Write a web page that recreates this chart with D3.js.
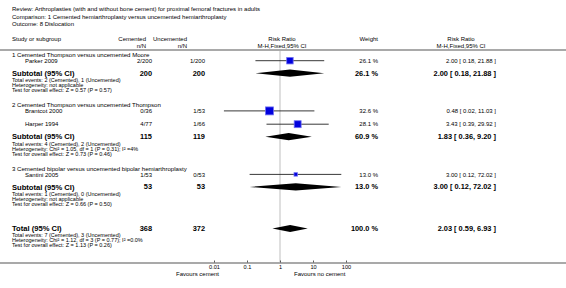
<!DOCTYPE html>
<html>
<head>
<meta charset="utf-8">
<script src="https://cdn.jsdelivr.net/npm/d3@7"></script>
<style>
  body { margin:0; background:#fff; }
  text { font-family: "Liberation Sans", Arial, sans-serif; fill:#000; }
</style>
</head>
<body>
<div id="plot"></div>
<script>
// ---- data
var titleLines = [
  "Review:  Arthroplasties (with and without bone cement) for proximal femoral fractures in adults",
  "Comparison:  1 Cemented hemiarthroplasty versus uncemented hemiarthroplasty",
  "Outcome:  8 Dislocation"
];

var groupNames = [
  "1 Cemented Thompson versus uncemented Moore",
  "2 Cemented Thompson versus uncemented Thompson",
  "3 Cemented bipolar versus uncemented bipolar hemiarthroplasty"
];

var studies    = ["Parker 2009", "Brantcot 2000", "Harper 1994", "Santini 2005"];
var studyGroup = [0, 1, 1, 2];
var cemented   = ["2/200", "0/36", "4/77", "1/53"];
var uncemented = ["1/200", "1/53", "1/66", "0/53"];
var weights    = [26.1, 32.6, 28.1, 13.0];
var rr         = [2.00, 0.48, 3.43, 3.00];
var rrLow      = [0.18, 0.02, 0.39, 0.12];
var rrHigh     = [21.88, 11.03, 29.92, 72.02];

var subCemented   = [200, 115, 53];
var subUncemented = [200, 119, 53];
var subWeight     = [26.1, 60.9, 13.0];
var subRR         = [2.00, 1.83, 3.00];
var subLow        = [0.18, 0.36, 0.12];
var subHigh       = [21.88, 9.20, 72.02];
var subNotes = [
  ["Total events: 2 (Cemented), 1 (Uncemented)",
   "Heterogeneity: not applicable",
   "Test for overall effect: Z = 0.57 (P = 0.57)"],
  ["Total events: 4 (Cemented), 2 (Uncemented)",
   "Heterogeneity: Chi\u00b2 = 1.05, df = 1 (P = 0.31); I\u00b2 =4%",
   "Test for overall effect: Z = 0.73 (P = 0.46)"],
  ["Total events: 1 (Cemented), 0 (Uncemented)",
   "Heterogeneity: not applicable",
   "Test for overall effect: Z = 0.66 (P = 0.50)"]
];

var totalCemented = 368, totalUncemented = 372, totalWeight = 100.0;
var totalRR = 2.03, totalLow = 0.59, totalHigh = 6.93;
var totalNotes = [
  "Total events: 7 (Cemented), 3 (Uncemented)",
  "Heterogeneity: Chi\u00b2 = 1.12, df = 3 (P = 0.77); I\u00b2 =0.0%",
  "Test for overall effect: Z = 1.13 (P = 0.26)"
];

var tickValues = [0.01, 0.1, 1, 10, 100];
var tickLabels = ["0.01", "0.1", "1", "10", "100"];
var favLeft = "Favours cement", favRight = "Favours no cement";

// ---- layout
var W = 566, H = 288;
var col = { left:12, study:25, cem:152, unc:205, wt:378, ci:496, ciHead:461, plotHead:282 };
var lineGray = "#a9a9a9";

var svg = d3.select("#plot").append("svg")
    .attr("width", W).attr("height", H);

// forest x scale (log)
var x = d3.scaleLog().domain([0.01, 100]).range([214, 346]);

// square size follows weight
var boxSize = d3.scaleLinear().domain([0, 35]).range([0.5, 8.5]);

function fmt2(v) { return d3.format(".2f")(v); }
function ciText(m, lo, hi) { return fmt2(m) + " [ " + fmt2(lo) + ", " + fmt2(hi) + " ]"; }
function txt(xp, yp, s, size, anchor, weight) {
  return svg.append("text")
    .attr("x", xp).attr("y", yp).attr("dy", "0.35em")
    .attr("font-size", size)
    .attr("text-anchor", anchor || "start")
    .attr("font-weight", weight || "normal")
    .text(s);
}

// build rows: each row gets a gap (px) from the previous row
var rows = [];
groupNames.forEach(function(g, gi) {
  rows.push({ type:"group", gi:gi, gap: gi === 0 ? 0 : 15 });
  var first = true;
  studies.forEach(function(s, i) {
    if (studyGroup[i] === gi) {
      rows.push({ type:"study", i:i, gap: first ? 5.7 : 13.3 });
      first = false;
    }
  });
  rows.push({ type:"sub", gi:gi, gap:12.5 });
  subNotes[gi].forEach(function(n, k) {
    rows.push({ type:"note", text:n, gap: k === 0 ? 7 : 5 });
  });
});
rows.push({ type:"total", gap:24.6 });
totalNotes.forEach(function(n, k) {
  rows.push({ type:"note", text:n, gap: k === 0 ? 7 : 5 });
});
var yy = 55;
rows.forEach(function(r, k) { yy += (k === 0 ? 0 : r.gap); r.y = yy; });

var axisY = 263;

// ---- title block
titleLines.forEach(function(t, i) {
  txt(col.left, 9 + i * 7.5, t, 6);
});

// ---- column headers
txt(col.left, 39, "Study or subgroup", 6);
txt(col.cem - 6, 39, "Cemented", 6, "end");
txt(col.cem - 6, 46, "n/N", 6, "end");
txt(col.unc - 18, 39, "Uncemented", 6, "end");
txt(col.unc - 18, 46, "n/N", 6, "end");
txt(col.plotHead, 39, "Risk Ratio", 6, "middle");
txt(col.plotHead, 46, "M-H,Fixed,95% CI", 6, "middle");
txt(col.wt, 39, "Weight", 6, "end");
txt(col.ciHead, 39, "Risk Ratio", 6, "middle");
txt(col.ciHead, 46, "M-H,Fixed,95% CI", 6, "middle");

svg.append("line")
    .attr("x1", 0).attr("x2", W)
    .attr("y1", 50).attr("y2", 50)
    .attr("stroke", lineGray).attr("stroke-width", 2);

// ---- line of no effect
svg.append("line")
    .attr("x1", x(1)).attr("x2", x(1))
    .attr("y1", 51).attr("y2", axisY)
    .attr("stroke", "#d4d4d4").attr("stroke-width", 1.5);

// ---- rows
rows.forEach(function(r) {
  if (r.type === "group") {
    txt(col.left, r.y, groupNames[r.gi], 6.1);
  } else if (r.type === "study") {
    var i = r.i;
    txt(col.study, r.y, studies[i], 6);
    txt(col.cem, r.y, cemented[i], 6, "end");
    txt(col.unc, r.y, uncemented[i], 6, "end");
    txt(col.wt, r.y, d3.format(".1f")(weights[i]) + " %", 6, "end");
    txt(col.ci, r.y, ciText(rr[i], rrLow[i], rrHigh[i]), 6, "end");
    svg.append("line")
        .attr("x1", x(rrLow[i])).attr("x2", x(rrHigh[i]))
        .attr("y1", r.y).attr("y2", r.y)
        .attr("stroke", "#222").attr("stroke-width", 0.9);
    var b = boxSize(weights[i]);
    svg.append("rect")
        .attr("x", x(rr[i]) - b / 2).attr("y", r.y - b / 2)
        .attr("width", b).attr("height", b)
        .attr("fill", "#0000dd").attr("stroke", "#6f6ff2").attr("stroke-width", 0.8);
  } else if (r.type === "sub" || r.type === "total") {
    var isT = r.type === "total";
    var gi = r.gi;
    var label = isT ? "Total (95% CI)" : "Subtotal (95% CI)";
    var c = isT ? totalCemented : subCemented[gi];
    var u = isT ? totalUncemented : subUncemented[gi];
    var w = isT ? totalWeight : subWeight[gi];
    var m = isT ? totalRR : subRR[gi];
    var lo = isT ? totalLow : subLow[gi];
    var hi = isT ? totalHigh : subHigh[gi];
    txt(col.left, r.y, label, 7.6, "start", "bold");
    txt(col.cem, r.y, c, 7.4, "end", "bold");
    txt(col.unc, r.y, u, 7.4, "end", "bold");
    txt(col.wt, r.y, d3.format(".1f")(w) + " %", 7.4, "end", "bold");
    txt(col.ci, r.y, ciText(m, lo, hi), 7.4, "end", "bold");
    var hh = 3.6;
    svg.append("path")
        .attr("d", "M" + x(lo) + "," + r.y +
                   "L" + x(m) + "," + (r.y - hh) +
                   "L" + x(hi) + "," + r.y +
                   "L" + x(m) + "," + (r.y + hh) + "Z")
        .attr("fill", "#000");
  } else if (r.type === "note") {
    txt(col.left, r.y, r.text, 5.5);
  }
});

// ---- axis
svg.append("line")
    .attr("x1", 0).attr("x2", W)
    .attr("y1", axisY).attr("y2", axisY)
    .attr("stroke", lineGray).attr("stroke-width", 2);

var axis = d3.axisBottom(x)
    .tickValues(tickValues)
    .tickFormat(function(d, i) { return tickLabels[i]; })
    .tickSize(0)
    .tickPadding(2.5);

var axisG = svg.append("g")
    .attr("transform", "translate(0," + axisY + ")")
    .call(axis);
axisG.select(".domain").remove();
axisG.selectAll("text")
    .attr("font-size", 5.6)
    .attr("font-family", "Liberation Sans, Arial, sans-serif");
axisG.selectAll(".tick").append("line")
    .attr("y1", -2.5).attr("y2", -0.5)
    .attr("stroke", "#333").attr("stroke-width", 0.8);

txt(x(0.01) + 5, 273.5, favLeft, 6, "end");
txt(x(1) + 14, 273.5, favRight, 6, "start");
</script>
</body>
</html>
